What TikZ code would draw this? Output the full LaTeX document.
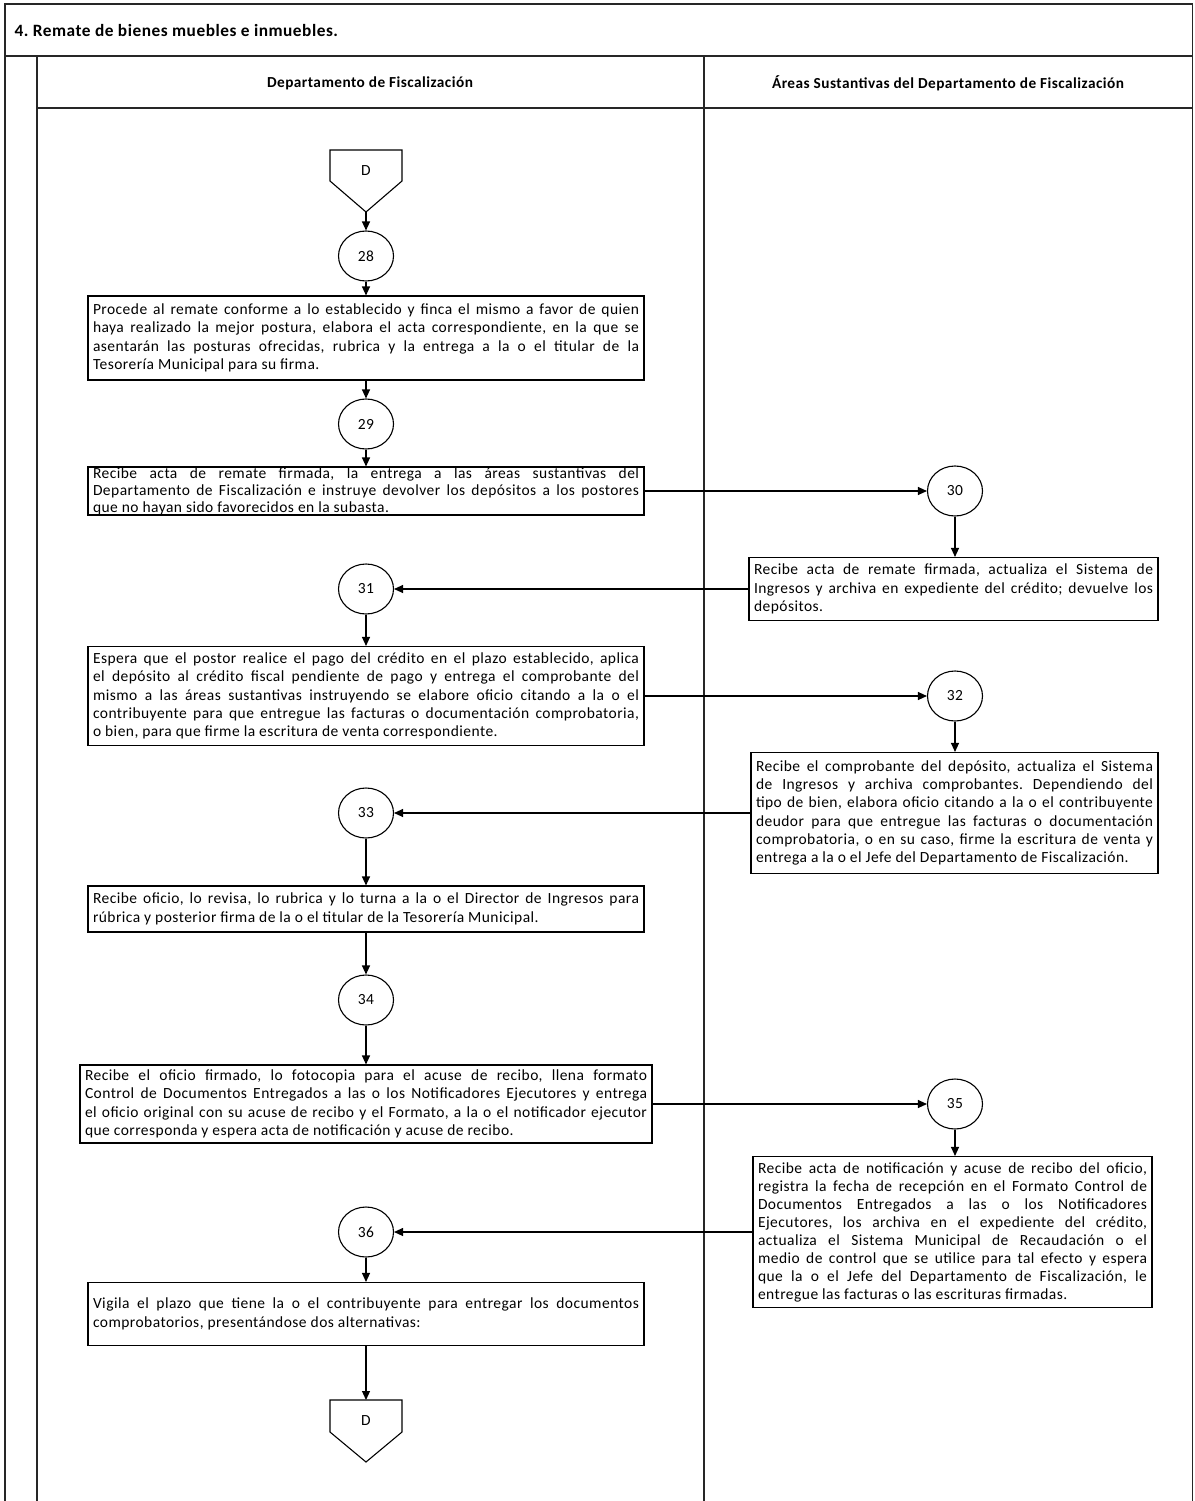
\documentclass[tikz,border=0pt]{standalone}
\usepackage{fontspec}
\setmainfont{Carlito}[LetterSpace=3]
\usetikzlibrary{arrows.meta,shapes.geometric}
\newcommand\boxfont{\fontsize{15.5pt}{18.3pt}\selectfont}
\tolerance=10000
\hbadness=10000
\hyphenpenalty=10000
\exhyphenpenalty=10000
\frenchspacing
\begin{document}
\begin{tikzpicture}[x=1pt,y=-1pt,
  every node/.style={font=\boxfont},
  frame/.style={line width=1.4pt, black!85},
  proc/.style={draw, line width=1.1pt, align=justify, inner xsep=5pt, inner ysep=4pt},
  lbox/.style={proc, text width=546pt, minimum width=556pt},
  rbox/.style={proc, text width=#1-10pt, minimum width=#1},
  conn/.style={draw, ellipse, line width=1.1pt, minimum width=55pt, minimum height=50pt, inner sep=0pt},
  offpage/.style={draw, line width=1.1pt},
  arr/.style={-{Triangle[length=9pt,width=8pt]}, line width=1.1pt}
]
\useasboundingbox (0,0) rectangle (1194,1501);
% frame
\draw[frame] (5,1501) -- (5,4) -- (1192.5,4) -- (1192.5,1501);
\draw[frame] (5,56) -- (1192.5,56);
\draw[frame] (37,56) -- (37,1501);
\draw[frame] (37,108) -- (1192.5,108);
\draw[frame] (704,56) -- (704,1501);
\node[anchor=west, font=\bfseries\fontsize{17.3pt}{20pt}\selectfont] (title) at (11,30) {4. Remate de bienes muebles e inmuebles.};
\node[font=\bfseries\fontsize{15.3pt}{18pt}\selectfont] (h1) at (370,83) {Departamento de Fiscalización};
\node[font=\bfseries\fontsize{15.3pt}{18pt}\selectfont] (h2) at (948,83) {Áreas Sustantivas del Departamento de Fiscalización};

% top off-page connector
\draw[offpage] (330,150) -- (402,150) -- (402,181) -- (366,212) -- (330,181) -- cycle;
\node (D1) at (366,171) {D};
\coordinate (d1tip) at (366,212);

\node[conn] (c28) at (366,256) {28};
\node[lbox, minimum height=84pt] (b1) at (366,338) {Procede al remate conforme a lo establecido y finca el mismo a favor de quien\linebreak haya realizado la mejor postura, elabora el acta correspondiente, en la que se\linebreak asentarán las posturas ofrecidas, rubrica y la entrega a la o el titular de la\linebreak Tesorería Municipal para su firma.};
\node[conn] (c29) at (366,424) {29};
\node[lbox, inner ysep=0pt, minimum height=48pt, font=\fontsize{15.5pt}{17pt}\selectfont] (b2) at (366,491) {Recibe acta de remate firmada, la entrega a las áreas sustantivas del\linebreak Departamento de Fiscalización e instruye devolver los depósitos a los postores\linebreak que no hayan sido favorecidos en la subasta.};
\node[conn] (c30) at (955,491) {30};
\node[rbox=409pt, minimum height=63pt] (b3) at (953.5,589) {Recibe acta de remate firmada, actualiza el Sistema de\linebreak Ingresos y archiva en expediente del crédito; devuelve los\linebreak depósitos.};
\node[conn] (c31) at (366,589) {31};
\node[lbox, minimum height=99pt] (b4) at (366,696) {Espera que el postor realice el pago del crédito en el plazo establecido, aplica\linebreak el depósito al crédito fiscal pendiente de pago y entrega el comprobante del\linebreak mismo a las áreas sustantivas instruyendo se elabore oficio citando a la o el\linebreak contribuyente para que entregue las facturas o documentación comprobatoria,\linebreak o bien, para que firme la escritura de venta correspondiente.};
\node[conn] (c32) at (955,696) {32};
\node[rbox=407pt, minimum height=121pt] (b5) at (954.5,813) {Recibe el comprobante del depósito, actualiza el Sistema\linebreak de Ingresos y archiva comprobantes. Dependiendo del\linebreak tipo de bien, elabora oficio citando a la o el contribuyente\linebreak deudor para que entregue las facturas o documentación\linebreak comprobatoria, o en su caso, firme la escritura de venta y\linebreak entrega a la o el Jefe del Departamento de Fiscalización.};
\node[conn] (c33) at (366,813) {33};
\node[lbox, minimum height=46pt] (b6) at (366,909) {Recibe oficio, lo revisa, lo rubrica y lo turna a la o el Director de Ingresos para\linebreak rúbrica y posterior firma de la o el titular de la Tesorería Municipal.};
\node[conn] (c34) at (366,1000) {34};
\node[proc, text width=562pt, minimum width=572pt, minimum height=78pt] (b7) at (366,1104) {Recibe el oficio firmado, lo fotocopia para el acuse de recibo, llena formato\linebreak Control de Documentos Entregados a las o los Notificadores Ejecutores y entrega\linebreak el oficio original con su acuse de recibo y el Formato, a la o el notificador ejecutor\linebreak que corresponda y espera acta de notificación y acuse de recibo.};
\node[conn] (c35) at (955,1104) {35};
\node[rbox=399pt, minimum height=151pt, font=\fontsize{15.5pt}{18pt}\selectfont] (b8) at (952.5,1232) {Recibe acta de notificación y acuse de recibo del oficio,\linebreak registra la fecha de recepción en el Formato Control de\linebreak Documentos Entregados a las o los Notificadores\linebreak Ejecutores, los archiva en el expediente del crédito,\linebreak actualiza el Sistema Municipal de Recaudación o el\linebreak medio de control que se utilice para tal efecto y espera\linebreak que la o el Jefe del Departamento de Fiscalización, le\linebreak entregue las facturas o las escrituras firmadas.};
\node[conn] (c36) at (366,1232) {36};
\node[lbox, minimum height=63pt] (b9) at (366,1314) {Vigila el plazo que tiene la o el contribuyente para entregar los documentos\linebreak comprobatorios, presentándose dos alternativas:};

% bottom off-page connector
\draw[offpage] (330,1400) -- (402,1400) -- (402,1432) -- (366,1462) -- (330,1432) -- cycle;
\node (D2) at (366,1421) {D};
\coordinate (d2top) at (366,1400);

% connectors
\draw[arr] (d1tip) -- (c28);
\draw[arr] (c28) -- (b1);
\draw[arr] (b1) -- (c29);
\draw[arr] (c29) -- (b2);
\draw[arr] (b2) -- (c30);
\draw[arr] (c30) -- (c30 |- b3.north);
\draw[arr] (b3) -- (c31);
\draw[arr] (c31) -- (b4);
\draw[arr] (b4) -- (c32);
\draw[arr] (c32) -- (c32 |- b5.north);
\draw[arr] (b5) -- (c33);
\draw[arr] (c33) -- (b6);
\draw[arr] (b6) -- (c34);
\draw[arr] (c34) -- (b7);
\draw[arr] (b7) -- (c35);
\draw[arr] (c35) -- (c35 |- b8.north);
\draw[arr] (b8) -- (c36);
\draw[arr] (c36) -- (b9);
\draw[arr] (b9) -- (d2top);
\end{tikzpicture}
\end{document}
